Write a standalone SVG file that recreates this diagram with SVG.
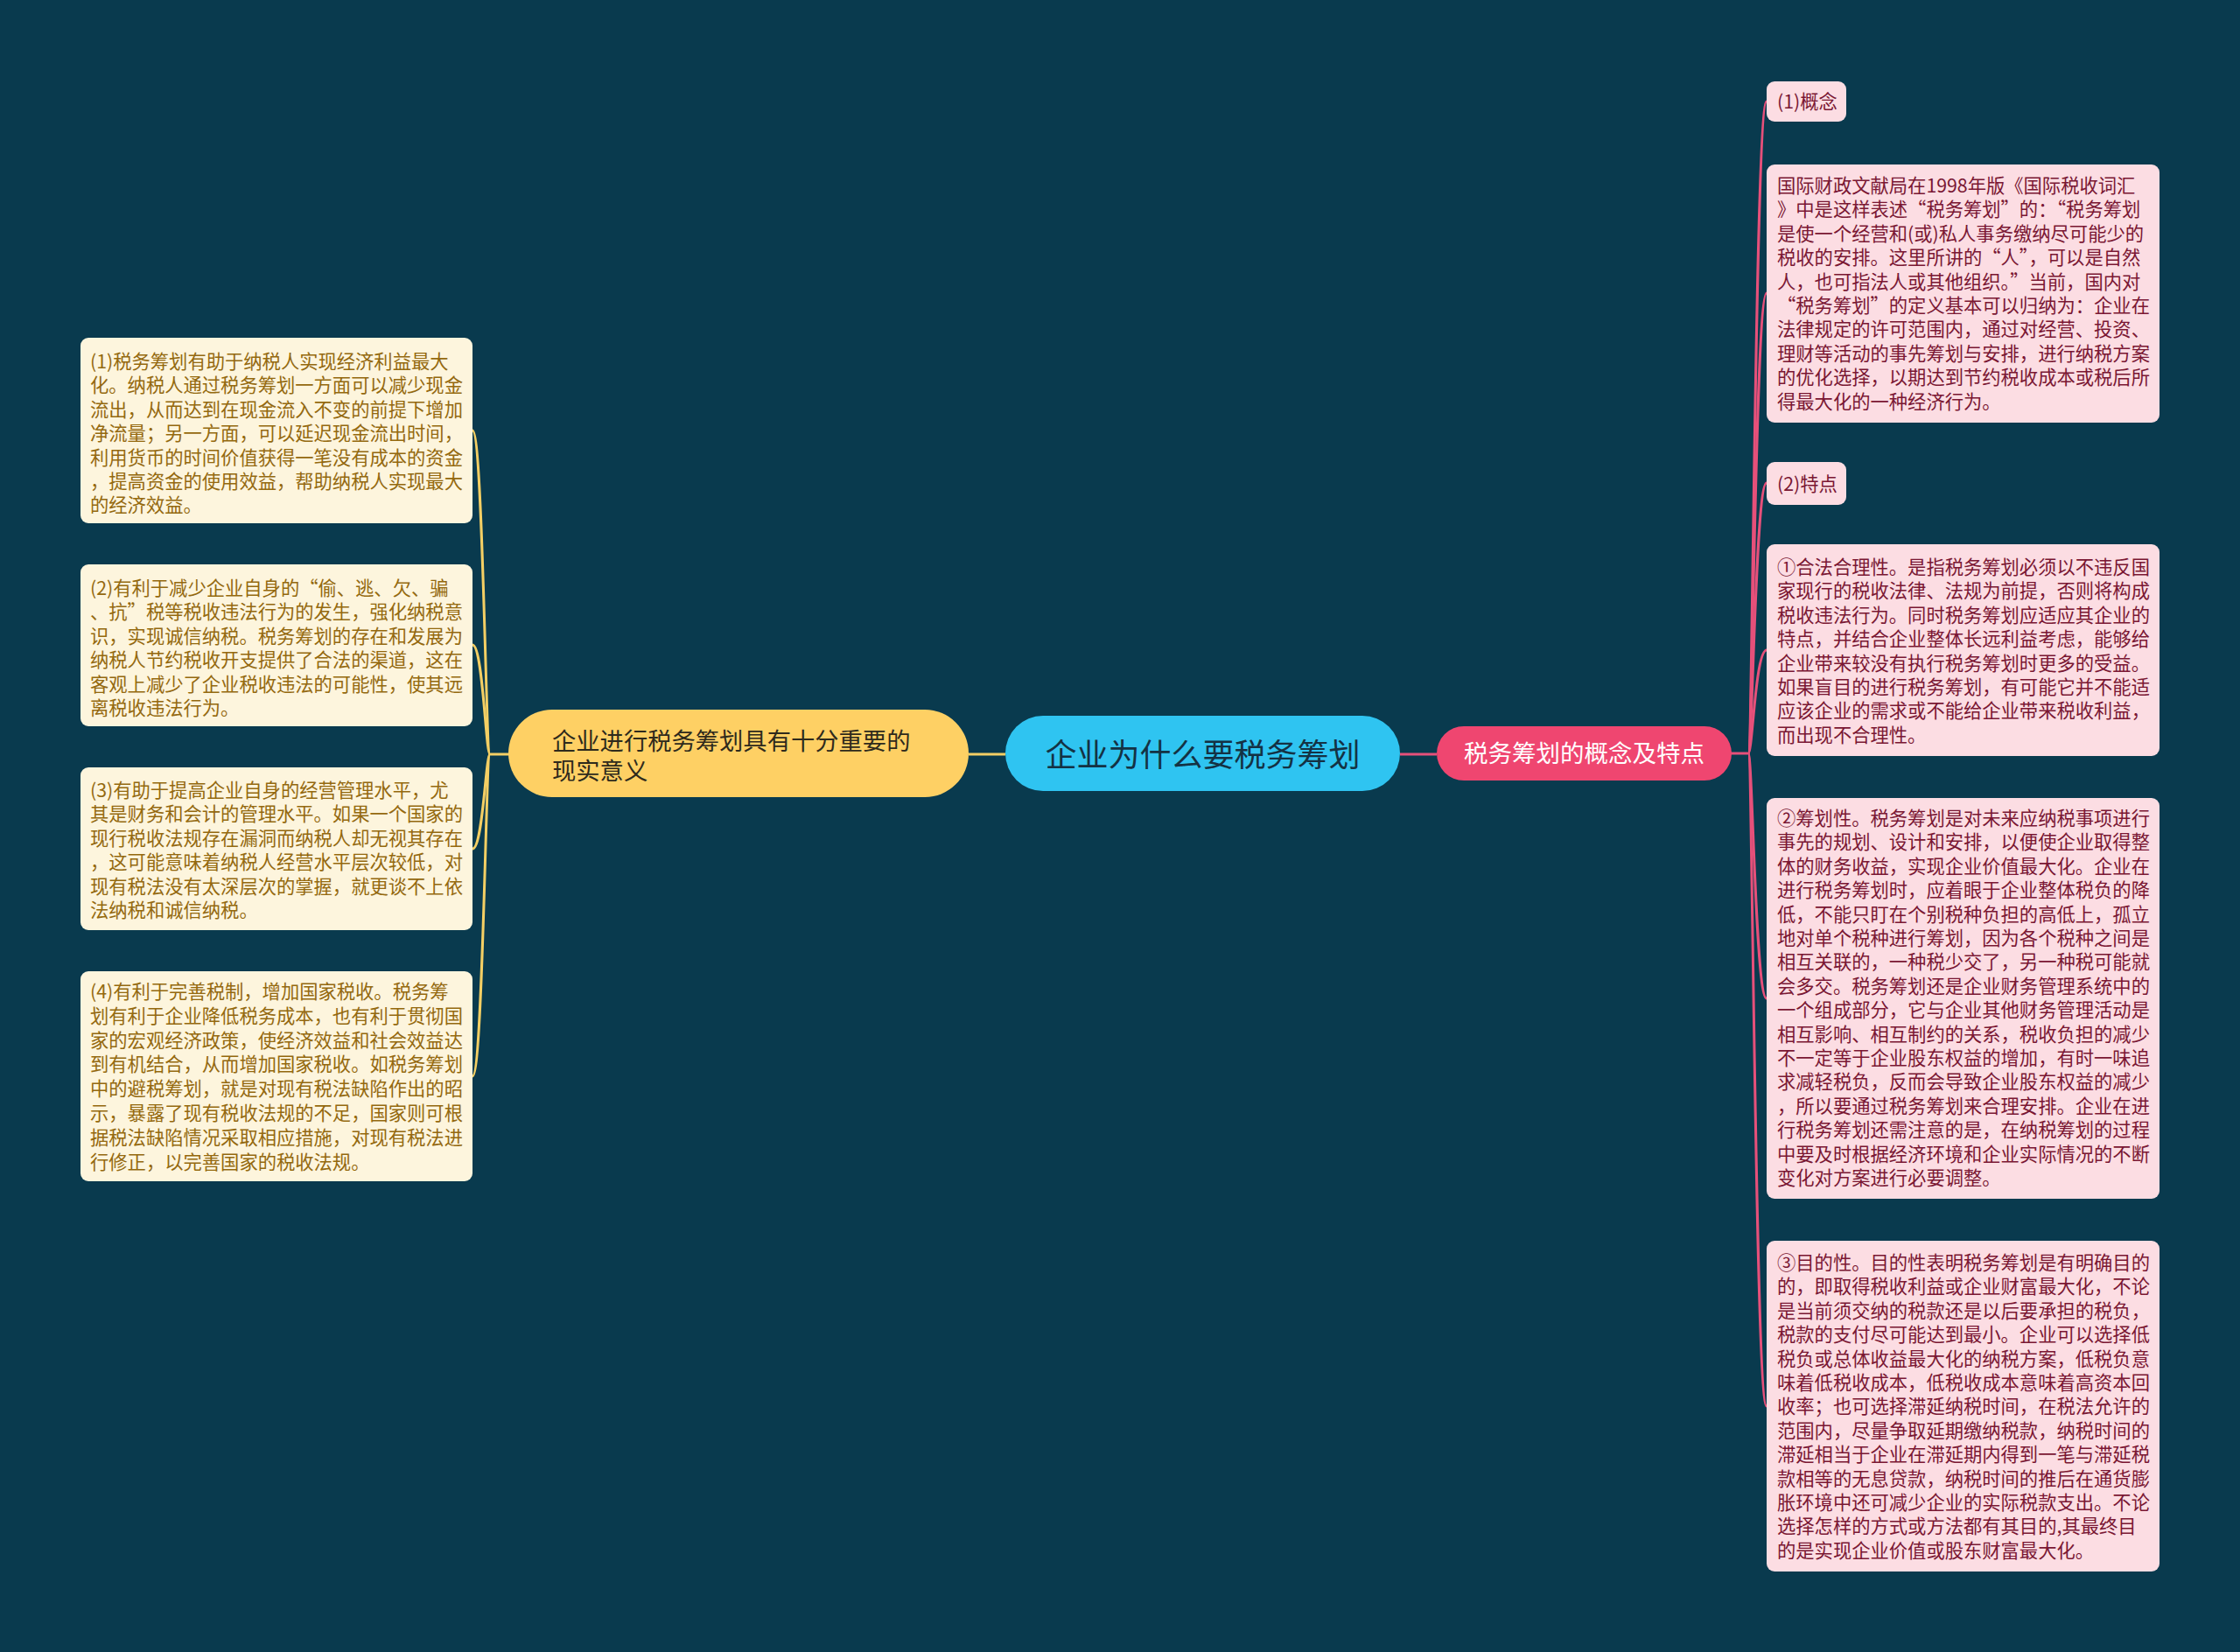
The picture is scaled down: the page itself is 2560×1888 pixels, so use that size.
<svg xmlns="http://www.w3.org/2000/svg" width="2560" height="1888" viewBox="0 0 2560 1888">
<style>
text{font-family:"Noto Sans CJK SC","Noto Sans",sans-serif;}
.lbox{fill:#fdf5dd;}
.ltxt{fill:#94690f;font-size:21.3px;}
.rbox{fill:#fcdde3;}
.rtxt{fill:#7a1733;font-size:21.3px;}
.ylink{fill:none;stroke:#f4cf64;stroke-width:3;}
.plink{fill:none;stroke:#e6507a;stroke-width:3;}
</style>
<rect width="2560" height="1888" fill="#093a4e"/>
<g id="connectors">
<path class="ylink" d="M1107,862 L1149,862"/>
<path class="plink" d="M1600,862 L1642,862"/>
<path class="ylink" d="M582,862 L560,862"/>
<path class="ylink" d="M560,862 C555,862 552,492 540,492"/>
<path class="ylink" d="M560,862 C555,862 552,737 540,737"/>
<path class="ylink" d="M560,862 C555,862 552,970 540,970"/>
<path class="ylink" d="M560,862 C555,862 552,1230 540,1230"/>
<path class="plink" d="M1978,861 L1998,861"/>
<path class="plink" d="M1998,861 C2003,861 2006,116 2019,116"/>
<path class="plink" d="M1998,861 C2003,861 2006,335 2019,335"/>
<path class="plink" d="M1998,861 C2003,861 2006,552 2019,552"/>
<path class="plink" d="M1998,861 C2003,861 2006,743 2019,743"/>
<path class="plink" d="M1998,861 C2003,861 2006,1141 2019,1141"/>
<path class="plink" d="M1998,861 C2003,861 2006,1607 2019,1607"/>
</g>
<g id="root">
<rect x="1149" y="818" width="451" height="86" rx="43" fill="#2fc4f1"/>
<text x="1374.5" y="876" font-size="36" text-anchor="middle" fill="#143244">企业为什么要税务筹划</text>
</g>
<g id="left-main">
<rect x="581" y="811" width="526" height="100" rx="50" fill="#fed064"/>
<text font-size="27.3" fill="#2e2a1c"><tspan x="631" y="857">企业进行税务筹划具有十分重要的</tspan><tspan x="631" y="891">现实意义</tspan></text>
</g>
<g id="right-main">
<rect x="1642" y="830" width="337" height="62" rx="31" fill="#ef4670"/>
<text x="1810.5" y="871" font-size="27.5" text-anchor="middle" fill="#ffffff">税务筹划的概念及特点</text>
</g>
<g id="left-1">
<rect class="lbox" x="92" y="386" width="448" height="212" rx="9"/>
<text class="ltxt"><tspan x="103" y="421">(1)税务筹划有助于纳税人实现经济利益最大</tspan><tspan x="103" y="448.4">化。纳税人通过税务筹划一方面可以减少现金</tspan><tspan x="103" y="475.8">流出，从而达到在现金流入不变的前提下增加</tspan><tspan x="103" y="503.2">净流量；另一方面，可以延迟现金流出时间，</tspan><tspan x="103" y="530.6">利用货币的时间价值获得一笔没有成本的资金</tspan><tspan x="103" y="558">，提高资金的使用效益，帮助纳税人实现最大</tspan><tspan x="103" y="585.4">的经济效益。</tspan></text>
</g>
<g id="left-2">
<rect class="lbox" x="92" y="645" width="448" height="185" rx="9"/>
<text class="ltxt"><tspan x="103" y="680">(2)有利于减少企业自身的“偷、逃、欠、骗</tspan><tspan x="103" y="707.4">、抗”税等税收违法行为的发生，强化纳税意</tspan><tspan x="103" y="734.8">识，实现诚信纳税。税务筹划的存在和发展为</tspan><tspan x="103" y="762.2">纳税人节约税收开支提供了合法的渠道，这在</tspan><tspan x="103" y="789.6">客观上减少了企业税收违法的可能性，使其远</tspan><tspan x="103" y="817">离税收违法行为。</tspan></text>
</g>
<g id="left-3">
<rect class="lbox" x="92" y="877" width="448" height="186" rx="9"/>
<text class="ltxt"><tspan x="103" y="911">(3)有助于提高企业自身的经营管理水平，尤</tspan><tspan x="103" y="938.4">其是财务和会计的管理水平。如果一个国家的</tspan><tspan x="103" y="965.8">现行税收法规存在漏洞而纳税人却无视其存在</tspan><tspan x="103" y="993.2">，这可能意味着纳税人经营水平层次较低，对</tspan><tspan x="103" y="1020.6">现有税法没有太深层次的掌握，就更谈不上依</tspan><tspan x="103" y="1048">法纳税和诚信纳税。</tspan></text>
</g>
<g id="left-4">
<rect class="lbox" x="92" y="1110" width="448" height="240" rx="9"/>
<text class="ltxt"><tspan x="103" y="1141">(4)有利于完善税制，增加国家税收。税务筹</tspan><tspan x="103" y="1168.8">划有利于企业降低税务成本，也有利于贯彻国</tspan><tspan x="103" y="1196.6">家的宏观经济政策，使经济效益和社会效益达</tspan><tspan x="103" y="1224.4">到有机结合，从而增加国家税收。如税务筹划</tspan><tspan x="103" y="1252.2">中的避税筹划，就是对现有税法缺陷作出的昭</tspan><tspan x="103" y="1280">示，暴露了现有税收法规的不足，国家则可根</tspan><tspan x="103" y="1307.8">据税法缺陷情况采取相应措施，对现有税法进</tspan><tspan x="103" y="1335.6">行修正，以完善国家的税收法规。</tspan></text>
</g>
<g id="right-1">
<rect class="rbox" x="2019" y="93" width="91" height="46" rx="9"/>
<text class="rtxt" x="2031" y="124">(1)概念</text>
</g>
<g id="right-2">
<rect class="rbox" x="2019" y="188" width="449" height="295" rx="9"/>
<text class="rtxt"><tspan x="2031" y="220">国际财政文献局在1998年版《国际税收词汇</tspan><tspan x="2031" y="247.4">》中是这样表述“税务筹划”的：“税务筹划</tspan><tspan x="2031" y="274.8">是使一个经营和(或)私人事务缴纳尽可能少的</tspan><tspan x="2031" y="302.2">税收的安排。这里所讲的“人”，可以是自然</tspan><tspan x="2031" y="329.6">人，也可指法人或其他组织。”当前，国内对</tspan><tspan x="2031" y="357">“税务筹划”的定义基本可以归纳为：企业在</tspan><tspan x="2031" y="384.4">法律规定的许可范围内，通过对经营、投资、</tspan><tspan x="2031" y="411.8">理财等活动的事先筹划与安排，进行纳税方案</tspan><tspan x="2031" y="439.2">的优化选择，以期达到节约税收成本或税后所</tspan><tspan x="2031" y="466.6">得最大化的一种经济行为。</tspan></text>
</g>
<g id="right-3">
<rect class="rbox" x="2019" y="528" width="91" height="49" rx="9"/>
<text class="rtxt" x="2031" y="561">(2)特点</text>
</g>
<g id="right-4">
<rect class="rbox" x="2019" y="622" width="449" height="242" rx="9"/>
<text class="rtxt"><tspan x="2031" y="656">①合法合理性。是指税务筹划必须以不违反国</tspan><tspan x="2031" y="683.4">家现行的税收法律、法规为前提，否则将构成</tspan><tspan x="2031" y="710.8">税收违法行为。同时税务筹划应适应其企业的</tspan><tspan x="2031" y="738.2">特点，并结合企业整体长远利益考虑，能够给</tspan><tspan x="2031" y="765.6">企业带来较没有执行税务筹划时更多的受益。</tspan><tspan x="2031" y="793">如果盲目的进行税务筹划，有可能它并不能适</tspan><tspan x="2031" y="820.4">应该企业的需求或不能给企业带来税收利益，</tspan><tspan x="2031" y="847.8">而出现不合理性。</tspan></text>
</g>
<g id="right-5">
<rect class="rbox" x="2019" y="912" width="449" height="458" rx="9"/>
<text class="rtxt"><tspan x="2031" y="943">②筹划性。税务筹划是对未来应纳税事项进行</tspan><tspan x="2031" y="970.4">事先的规划、设计和安排，以便使企业取得整</tspan><tspan x="2031" y="997.8">体的财务收益，实现企业价值最大化。企业在</tspan><tspan x="2031" y="1025.2">进行税务筹划时，应着眼于企业整体税负的降</tspan><tspan x="2031" y="1052.6">低，不能只盯在个别税种负担的高低上，孤立</tspan><tspan x="2031" y="1080">地对单个税种进行筹划，因为各个税种之间是</tspan><tspan x="2031" y="1107.4">相互关联的，一种税少交了，另一种税可能就</tspan><tspan x="2031" y="1134.8">会多交。税务筹划还是企业财务管理系统中的</tspan><tspan x="2031" y="1162.2">一个组成部分，它与企业其他财务管理活动是</tspan><tspan x="2031" y="1189.6">相互影响、相互制约的关系，税收负担的减少</tspan><tspan x="2031" y="1217">不一定等于企业股东权益的增加，有时一味追</tspan><tspan x="2031" y="1244.4">求减轻税负，反而会导致企业股东权益的减少</tspan><tspan x="2031" y="1271.8">，所以要通过税务筹划来合理安排。企业在进</tspan><tspan x="2031" y="1299.2">行税务筹划还需注意的是，在纳税筹划的过程</tspan><tspan x="2031" y="1326.6">中要及时根据经济环境和企业实际情况的不断</tspan><tspan x="2031" y="1354">变化对方案进行必要调整。</tspan></text>
</g>
<g id="right-6">
<rect class="rbox" x="2019" y="1418" width="449" height="378" rx="9"/>
<text class="rtxt"><tspan x="2031" y="1451">③目的性。目的性表明税务筹划是有明确目的</tspan><tspan x="2031" y="1478.4">的，即取得税收利益或企业财富最大化，不论</tspan><tspan x="2031" y="1505.8">是当前须交纳的税款还是以后要承担的税负，</tspan><tspan x="2031" y="1533.2">税款的支付尽可能达到最小。企业可以选择低</tspan><tspan x="2031" y="1560.6">税负或总体收益最大化的纳税方案，低税负意</tspan><tspan x="2031" y="1588">味着低税收成本，低税收成本意味着高资本回</tspan><tspan x="2031" y="1615.4">收率；也可选择滞延纳税时间，在税法允许的</tspan><tspan x="2031" y="1642.8">范围内，尽量争取延期缴纳税款，纳税时间的</tspan><tspan x="2031" y="1670.2">滞延相当于企业在滞延期内得到一笔与滞延税</tspan><tspan x="2031" y="1697.6">款相等的无息贷款，纳税时间的推后在通货膨</tspan><tspan x="2031" y="1725">胀环境中还可减少企业的实际税款支出。不论</tspan><tspan x="2031" y="1752.4">选择怎样的方式或方法都有其目的,其最终目</tspan><tspan x="2031" y="1779.8">的是实现企业价值或股东财富最大化。</tspan></text>
</g>
</svg>
